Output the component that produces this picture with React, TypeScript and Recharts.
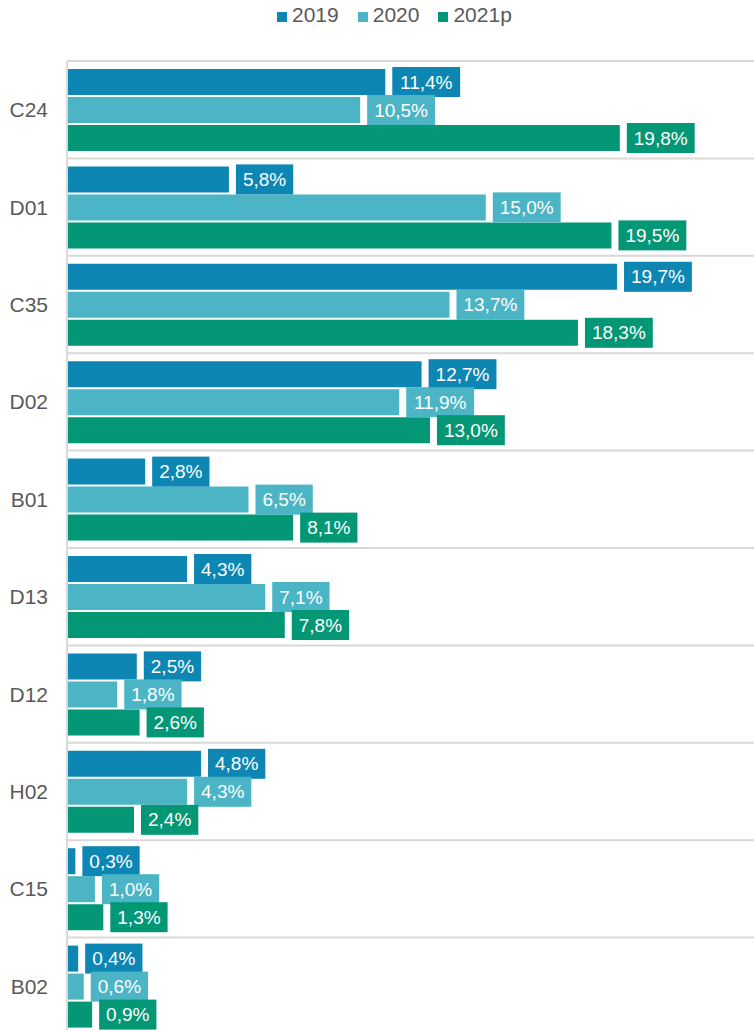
import React from 'react';
import { BarChart, Bar, XAxis, YAxis, Legend, LabelList } from 'recharts';

const categories = ['C24', 'D01', 'C35', 'D02', 'B01', 'D13', 'D12', 'H02', 'C15', 'B02'];
const s2019 = [11.4, 5.8, 19.7, 12.7, 2.8, 4.3, 2.5, 4.8, 0.3, 0.4];
const s2020 = [10.5, 15.0, 13.7, 11.9, 6.5, 7.1, 1.8, 4.3, 1.0, 0.6];
const s2021p = [19.8, 19.5, 18.3, 13.0, 8.1, 7.8, 2.6, 2.4, 1.3, 0.9];
const seriesNames = ['2019', '2020', '2021p'];
const seriesKeys = ['s2019', 's2020', 's2021p'];
const seriesColors = ['#0E86B3', '#4BB5C6', '#039776'];

const data = categories.map((c, i) => ({ cat: c, s2019: s2019[i], s2020: s2020[i], s2021p: s2021p[i] }));

const FONT = '"Liberation Sans", Arial, sans-serif';
const CHART_W = 765;
const CHART_H = 1035;
const TOP = 61;
const AXIS_W = 67;
const PLOT_H = CHART_H - TOP;
const BAND = PLOT_H / categories.length;
const GRID = '#D9D9D9';
const LABEL_FS = 19;

const charW = (ch: string) => {
  if (ch === ',' || ch === '.') return 0.278;
  if (ch === '%') return 0.889;
  return 0.556;
};
const textWidth = (s: string, fs: number) => s.split('').reduce((a, c) => a + charW(c), 0) * fs;
const fmt = (v: number) => v.toFixed(1).replace('.', ',') + '%';

const makeLabel = (color: string) => (props: any) => {
  const { x, y, width, height, value } = props;
  const txt = fmt(Number(value));
  const w = textWidth(txt, LABEL_FS) + 14;
  const bx = x + width + 7;
  const cy = y + height / 2;
  return (
    <g>
      <rect x={bx} y={cy - 15} width={w} height={30} fill={color} />
      <text x={bx + w / 2} y={cy} textAnchor="middle" dominantBaseline="central" fill="#FFFFFF" fontSize={LABEL_FS} fontFamily={FONT}>
        {txt}
      </text>
    </g>
  );
};

const CatTick = (props: any) => {
  const { x, y, payload } = props;
  return (
    <g>
      <line x1={x + 19} x2={CHART_W} y1={y - BAND / 2} y2={y - BAND / 2} stroke={GRID} strokeWidth={2} />
      <text x={x} y={y} textAnchor="end" dominantBaseline="central" fill="#595959" fontSize={21} fontFamily={FONT}>
        {payload.value}
      </text>
    </g>
  );
};

const LegendContent = () => (
  <div style={{ display: 'flex', paddingLeft: 277, paddingTop: 3, fontFamily: FONT, fontSize: 21, color: '#595959', whiteSpace: 'nowrap' }}>
    {seriesNames.map((n, i) => (
      <div key={n} style={{ marginRight: 19 }}>
        <span style={{ display: 'inline-block', width: 10, height: 10, background: seriesColors[i], marginRight: 5 }} />
        <span>{n}</span>
      </div>
    ))}
  </div>
);

export default function App() {
  return (
    <div style={{ position: 'absolute', left: 0, top: 0, width: 754, height: 1030, overflow: 'hidden', background: '#fff' }}>
      <BarChart
        width={CHART_W}
        height={CHART_H}
        data={data}
        layout="vertical"
        margin={{ top: TOP, right: 0, bottom: 0, left: 0 }}
        barSize={26}
        barGap={2}
      >
        <XAxis type="number" domain={[0, 25]} hide />
        <YAxis
          type="category"
          dataKey="cat"
          width={AXIS_W}
          tickLine={false}
          tickSize={0}
          tickMargin={19}
          axisLine={{ stroke: GRID, strokeWidth: 2 }}
          tick={<CatTick />}
          interval={0}
        />
        <Legend align="center" verticalAlign="middle" wrapperStyle={{ top: 0, left: 0, width: 754 }} content={<LegendContent />} />
        {seriesKeys.map((k, i) => (
          <Bar key={k} dataKey={k} name={seriesNames[i]} fill={seriesColors[i]} isAnimationActive={false}>
            <LabelList dataKey={k} content={makeLabel(seriesColors[i])} />
          </Bar>
        ))}
      </BarChart>
    </div>
  );
}
